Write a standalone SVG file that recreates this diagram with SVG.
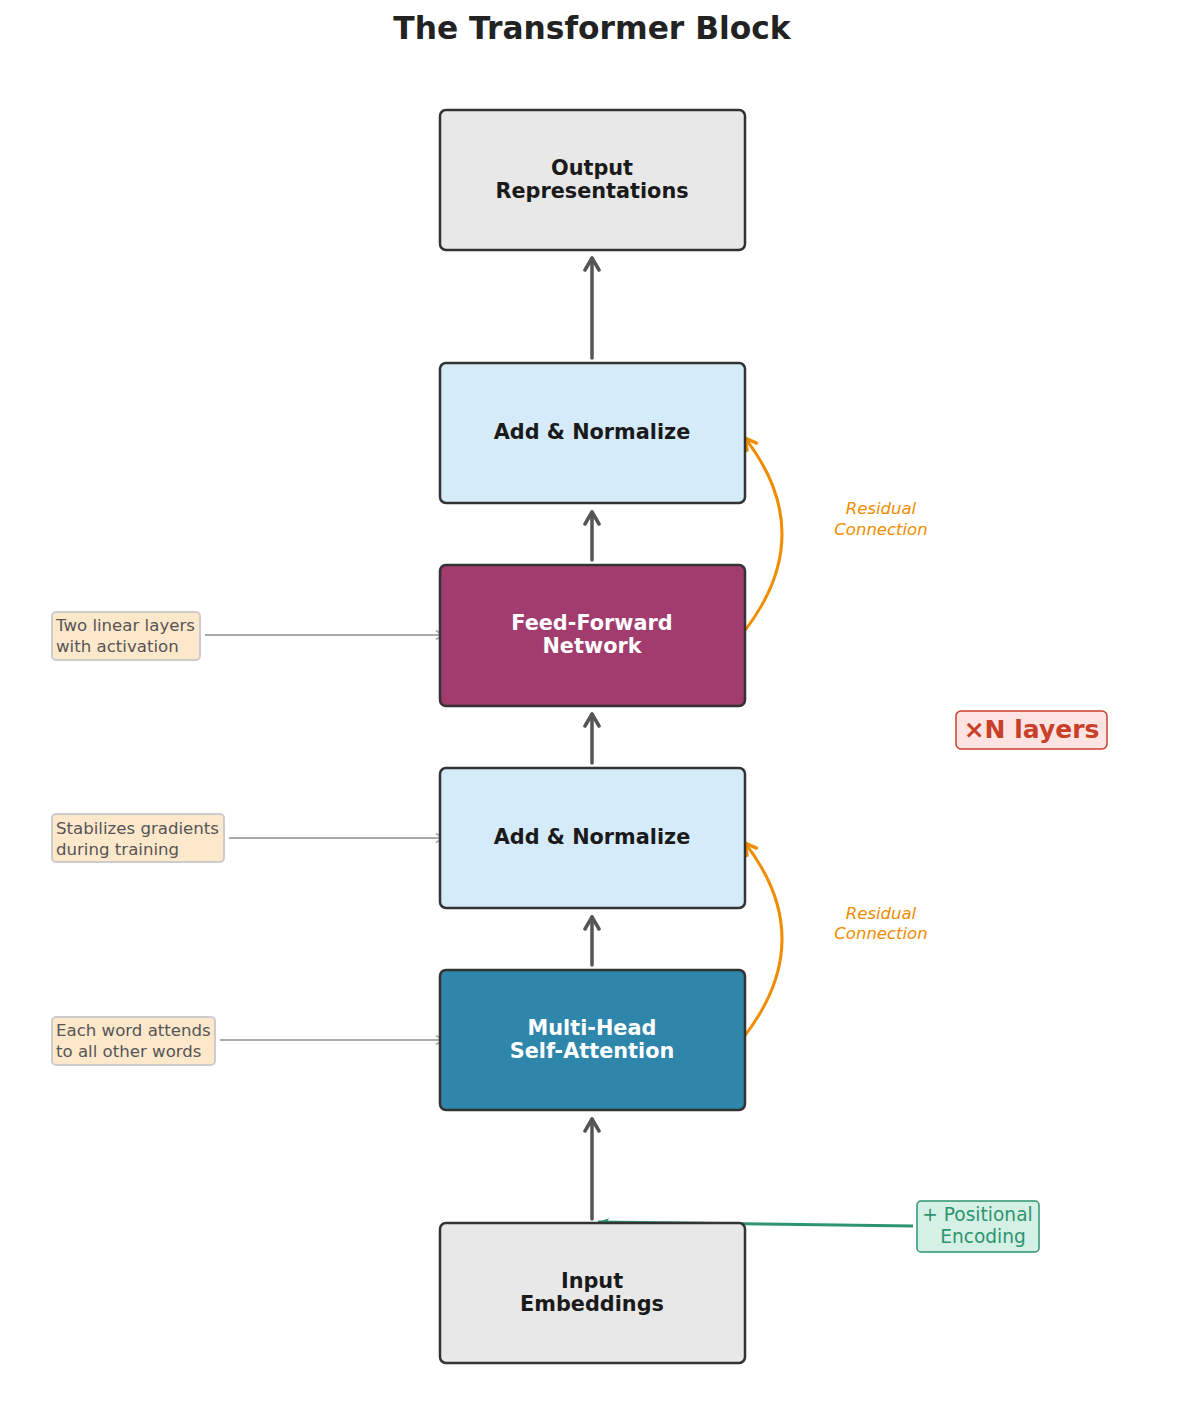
<svg xmlns="http://www.w3.org/2000/svg" width="1185" height="1410" viewBox="0 0 1185 1410">
<style>
text{font-family:"DejaVu Sans",sans-serif}
.node{stroke:#333;stroke-width:2.5}
.lbl{font-size:20.8px;font-weight:bold;text-anchor:middle;fill:#1a1a1a}
.wl{fill:#fff}
.main{stroke:#555;stroke-width:3.5;fill:none;stroke-linecap:round}
.res{stroke:#f08c00;stroke-width:3;fill:none}
.rt{font-size:16.5px;font-style:italic;fill:#f08c00;text-anchor:middle}
.ann{fill:#fde8cc;stroke:#ccc;stroke-width:2}
.at{font-size:16.6px;fill:#555}
.aa{stroke:#aaa;stroke-width:2;fill:none}
</style>
<defs>
<marker id="mh" viewBox="0 0 20 20" refX="18" refY="10" markerWidth="20" markerHeight="20" markerUnits="userSpaceOnUse" orient="auto">
<path d="M6,3 L18,10 L6,17" fill="none" stroke="#555" stroke-width="3.5" stroke-linecap="round" stroke-linejoin="round"/>
</marker>
<marker id="rh" viewBox="0 0 20 20" refX="18" refY="10" markerWidth="20" markerHeight="20" markerUnits="userSpaceOnUse" orient="auto">
<path d="M7,4 L18,10 L7,16" fill="none" stroke="#f08c00" stroke-width="3.5" stroke-linecap="round" stroke-linejoin="round"/>
</marker>
<marker id="ah" viewBox="0 0 14 14" refX="12" refY="7" markerWidth="14" markerHeight="14" markerUnits="userSpaceOnUse" orient="auto">
<path d="M5,2.5 L12,7 L5,11.5" fill="none" stroke="#aaa" stroke-width="2"/>
</marker>
<marker id="gh" viewBox="0 0 16 16" refX="15" refY="8" markerWidth="16" markerHeight="16" markerUnits="userSpaceOnUse" orient="auto">
<path d="M4,4 L15,8 L4,12 L6,8 Z" fill="#2e9470"/>
</marker>
</defs>
<rect width="1185" height="1410" fill="#fff"/>
<text x="592" y="39" font-size="31.3" font-weight="bold" text-anchor="middle" fill="#222">The Transformer Block</text>

<g id="connectors">
<line class="main" x1="592" y1="358" x2="592" y2="258" marker-end="url(#mh)"/>
<line class="main" x1="592" y1="560" x2="592" y2="512" marker-end="url(#mh)"/>
<line class="main" x1="592" y1="763" x2="592" y2="714" marker-end="url(#mh)"/>
<line class="main" x1="592" y1="965" x2="592" y2="917" marker-end="url(#mh)"/>
<line class="main" x1="592" y1="1219" x2="592" y2="1119" marker-end="url(#mh)"/>
<path class="res" d="M743,633 Q820,535 745,438" marker-end="url(#rh)"/>
<path class="res" d="M743,1038 Q820,940 745,843" marker-end="url(#rh)"/>
<line class="aa" x1="205" y1="635" x2="443" y2="635" marker-end="url(#ah)"/>
<line class="aa" x1="229" y1="838" x2="443" y2="838" marker-end="url(#ah)"/>
<line class="aa" x1="220" y1="1040" x2="443" y2="1040" marker-end="url(#ah)"/>
<line x1="913" y1="1226" x2="598" y2="1222" stroke="#2e9470" stroke-width="3" marker-end="url(#gh)"/>
</g>

<g id="output">
<rect class="node" x="440" y="110" width="305" height="140" rx="6" fill="#e8e8e8"/>
<text class="lbl" x="592" y="175">Output</text>
<text class="lbl" x="592" y="198">Representations</text>
</g>
<g id="addnorm2">
<rect class="node" x="440" y="363" width="305" height="140" rx="6" fill="#d6ebf9"/>
<text class="lbl" x="592" y="439">Add &amp; Normalize</text>
</g>
<g id="ffn">
<rect class="node" x="440" y="565" width="305" height="141" rx="6" fill="#a23b6e"/>
<text class="lbl wl" x="592" y="630">Feed-Forward</text>
<text class="lbl wl" x="592" y="653">Network</text>
</g>
<g id="addnorm1">
<rect class="node" x="440" y="768" width="305" height="140" rx="6" fill="#d6ebf9"/>
<text class="lbl" x="592" y="844">Add &amp; Normalize</text>
</g>
<g id="mhsa">
<rect class="node" x="440" y="970" width="305" height="140" rx="6" fill="#2e86ab"/>
<text class="lbl wl" x="592" y="1035">Multi-Head</text>
<text class="lbl wl" x="592" y="1058">Self-Attention</text>
</g>
<g id="input">
<rect class="node" x="440" y="1223" width="305" height="140" rx="6" fill="#e8e8e8"/>
<text class="lbl" x="592" y="1288">Input</text>
<text class="lbl" x="592" y="1311">Embeddings</text>
</g>

<g id="residual-labels">
<text class="rt" x="881" y="514">Residual</text>
<text class="rt" x="881" y="535">Connection</text>
<text class="rt" x="881" y="919">Residual</text>
<text class="rt" x="881" y="939">Connection</text>
</g>

<g id="nlayers">
<rect x="956" y="711" width="151" height="38" rx="5" fill="#fde3e1" stroke="#c8402a" stroke-width="1.5"/>
<text x="1031.5" y="738" font-size="25" font-weight="bold" text-anchor="middle" fill="#c8402a">×N layers</text>
</g>

<g id="ann-ffn">
<rect class="ann" x="52" y="612" width="148" height="48" rx="4"/>
<text class="at" x="56" y="631">Two linear layers</text>
<text class="at" x="56" y="652">with activation</text>
</g>
<g id="ann-norm">
<rect class="ann" x="52" y="814" width="172" height="48" rx="4"/>
<text class="at" x="56" y="834">Stabilizes gradients</text>
<text class="at" x="56" y="855">during training</text>
</g>
<g id="ann-attn">
<rect class="ann" x="52" y="1017" width="163" height="48" rx="4"/>
<text class="at" x="56" y="1036">Each word attends</text>
<text class="at" x="56" y="1057">to all other words</text>
</g>

<g id="posenc">
<rect x="917" y="1201" width="122" height="51" rx="4" fill="#d5f0e5" stroke="#2e9470" stroke-width="1.5"/>
<text x="977.5" y="1221" font-size="18.6" text-anchor="middle" fill="#2e9470">+ Positional</text>
<text x="983" y="1243" font-size="18.6" text-anchor="middle" fill="#2e9470">Encoding</text>
</g>
</svg>
